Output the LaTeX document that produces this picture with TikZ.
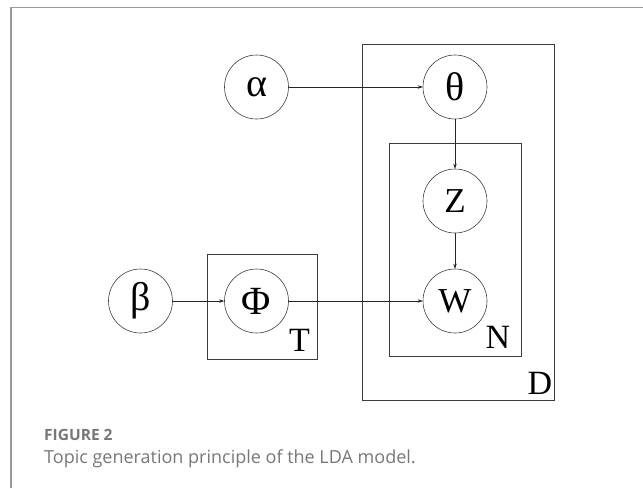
\documentclass[tikz,border=0pt]{standalone}
\usepackage{fontspec}
\setmainfont{Liberation Serif}
\newfontfamily\capfont{Open Sans}
\usetikzlibrary{arrows.meta}
\definecolor{framegray}{HTML}{9A9A9A}
\definecolor{capgray}{HTML}{777777}
\definecolor{linegray}{HTML}{3C3C3C}

\begin{document}
\begin{tikzpicture}[x=1pt,y=-1pt,
	var/.style={circle,draw=linegray,line width=.6pt,minimum size=64pt,inner sep=0pt,font=\fontsize{35}{35}\selectfont},
	greekvar/.style={var,font=\fontsize{40}{40}\selectfont},
	plate/.style={draw=linegray,line width=.8pt},
	platelabel/.style={inner sep=0pt,font=\fontsize{34}{34}\selectfont},
	edge/.style={draw=black!85,line width=.6pt,-{Stealth[length=5pt,width=3.5pt]}}]
	\useasboundingbox (0,0) rectangle (643,488);
	\draw[framegray,line width=1.5pt] (11,488)--(11,7.5)--(643,7.5);
	% plates
	\draw[plate] (362,44) rectangle (554,400);
	\draw[plate] (389,143) rectangle (521,356);
	\draw[plate] (207,254) rectangle (317,359);
	\node[platelabel] (Dlabel) at (540,383) {D};
	\node[platelabel] (Nlabel) at (498,337) {N};
	\node[platelabel] (Tlabel) at (299.5,340) {T};
	% variables
	\node[greekvar] (alpha) at (256.5,87) {α};
	\node[greekvar] (theta) at (455,87) {θ};
	\node[var] (z) at (455,201) {Z};
	\node[var] (w) at (455,301) {W};
	\node[greekvar] (beta) at (140.5,301) {β};
	\node[greekvar] (phi) at (256.5,301) {Φ};
	\draw[edge] (alpha)--(theta);
	\draw[edge] (theta)--(z);
	\draw[edge] (z)--(w);
	\draw[edge] (beta)--(phi);
	\draw[edge] (phi)--(w);
	% caption
	\node[anchor=base west,inner sep=0pt,text=capgray,font=\capfont\bfseries\fontsize{15.5}{16}\selectfont] (figno) at (44,440) {FIGURE 2};
	\node[anchor=base west,inner sep=0pt,text=capgray,font=\capfont\fontsize{18}{20}\selectfont] (figtext) at (44,463) {Topic generation principle of the LDA model.};
\end{tikzpicture}
\end{document}
